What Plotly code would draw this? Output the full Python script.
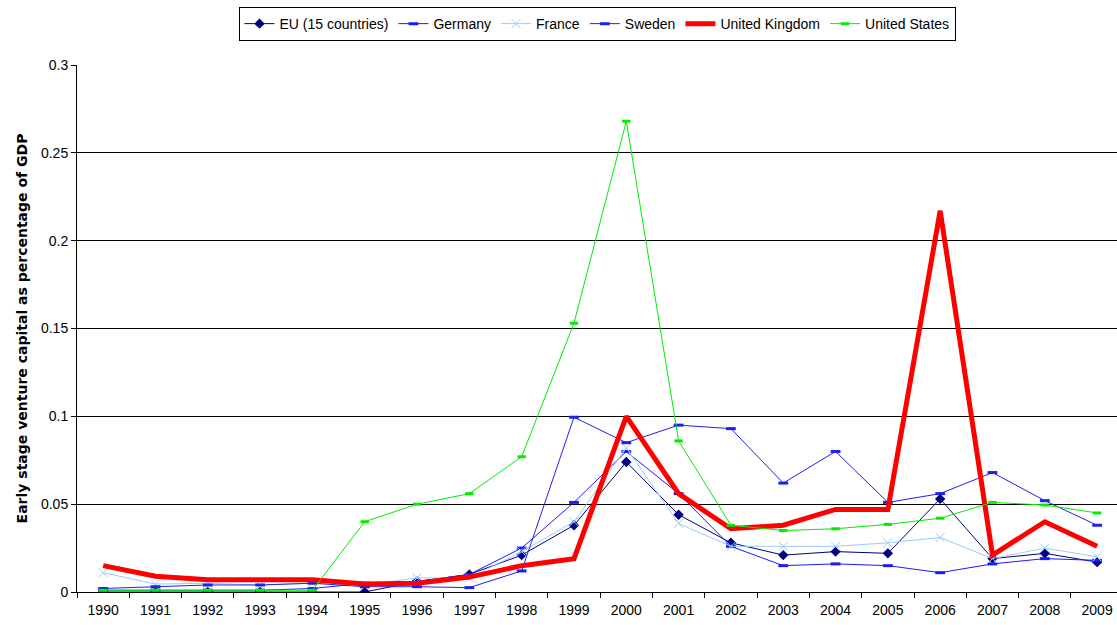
import plotly.graph_objects as go

years = list(range(1990, 2010))

eu15 = [0.0, 0.0, 0.0, 0.0, 0.0, 0.0, 0.006, 0.010, 0.021, 0.038,
        0.074, 0.044, 0.028, 0.021, 0.023, 0.022, 0.053, 0.019, 0.022, 0.017]
germany = [0.001, 0.001, 0.001, 0.001, 0.002, 0.005, 0.006, 0.010, 0.025, 0.051,
           0.080, 0.056, 0.026, 0.015, 0.016, 0.015, 0.011, 0.016, 0.019, 0.018]
france = [0.011, 0.0045, 0.005, 0.004, 0.005, 0.004, 0.008, 0.008, 0.023, 0.040,
          0.082, 0.039, 0.026, 0.026, 0.026, 0.028, 0.031, 0.019, 0.025, 0.020]
sweden = [0.002, 0.003, 0.004, 0.004, 0.005, 0.003, 0.003, 0.0025, 0.012, 0.0995,
          0.085, 0.095, 0.093, 0.062, 0.080, 0.051, 0.056, 0.068, 0.052, 0.038]
uk = [0.015, 0.009, 0.007, 0.007, 0.007, 0.0045, 0.005, 0.0085, 0.015, 0.019,
      0.100, 0.056, 0.036, 0.038, 0.047, 0.047, 0.217, 0.021, 0.040, 0.026]
us = [0.001, 0.001, 0.001, 0.001, 0.001, 0.040, 0.050, 0.056, 0.077, 0.153,
      0.268, 0.086, 0.038, 0.035, 0.036, 0.0385, 0.042, 0.051, 0.0495, 0.045]

series_names = ["EU (15 countries)", "Germany", "France", "Sweden", "United Kingdom", "United States"]
y_ticks = [0, 0.05, 0.1, 0.15, 0.2, 0.25, 0.3]

FONT = "Liberation Sans, Arial, sans-serif"

fig = go.Figure()
fig.add_trace(go.Scatter(x=years, y=eu15, name=series_names[0], mode="lines+markers",
                         line=dict(color="#000080", width=1),
                         marker=dict(symbol="diamond", size=8, color="#000080")))
fig.add_trace(go.Scatter(x=years, y=germany, name=series_names[1], mode="lines+markers",
                         line=dict(color="#1a1aff", width=1),
                         marker=dict(symbol="line-ew", size=7, color="#1a1aff",
                                     line=dict(color="#1a1aff", width=3))))
fig.add_trace(go.Scatter(x=years, y=france, name=series_names[2], mode="lines+markers",
                         line=dict(color="#99ccff", width=1),
                         marker=dict(symbol="x-thin", size=9, color="#99ccff",
                                     line=dict(color="#99ccff", width=1))))
fig.add_trace(go.Scatter(x=years, y=sweden, name=series_names[3], mode="lines+markers",
                         line=dict(color="#2020ee", width=1),
                         marker=dict(symbol="line-ew", size=7, color="#2020ee",
                                     line=dict(color="#2020ee", width=3))))
fig.add_trace(go.Scatter(x=years, y=uk, name=series_names[4], mode="lines",
                         line=dict(color="#ff0000", width=5)))
fig.add_trace(go.Scatter(x=years, y=us, name=series_names[5], mode="lines+markers",
                         line=dict(color="#00ee00", width=1),
                         marker=dict(symbol="line-ew", size=6, color="#00ee00",
                                     line=dict(color="#00ee00", width=3))))

fig.update_layout(
    width=1117, height=625,
    margin=dict(l=77, r=0, t=65, b=33),
    paper_bgcolor="white", plot_bgcolor="white",
    font=dict(family=FONT, size=13, color="black"),
    showlegend=True,
    legend=dict(orientation="h", x=0.5, xanchor="center", y=1.11, yanchor="top",
                bordercolor="black", borderwidth=1, bgcolor="white",
                font=dict(family=FONT, size=14), itemwidth=30,
                tracegroupgap=0),
)
fig.update_xaxes(
    range=[1989.5, 2009.38],
    tickmode="array", tickvals=years, ticktext=[str(y) for y in years],
    ticks="", showgrid=False, zeroline=False,
    showline=True, linecolor="black", linewidth=1,
    tickfont=dict(family=FONT, size=14),
    ticklabelstandoff=5,
    minor=dict(ticks="outside", ticklen=5, tickcolor="black", tick0=1989.5, dtick=1, showgrid=False),
)
fig.update_yaxes(
    range=[0, 0.3],
    tickmode="array", tickvals=y_ticks, ticktext=[str(v) for v in y_ticks],
    ticks="outside", ticklen=5, tickcolor="black",
    showgrid=True, gridcolor="black", gridwidth=1,
    zeroline=False, showline=True, linecolor="black", linewidth=1,
    tickfont=dict(family=FONT, size=14),
    title=dict(text="<b>Early stage venture capital as percentage of GDP</b>",
               font=dict(family="DejaVu Sans, sans-serif", size=14), standoff=10),
)

fig.write_html(
    "out.html",
    config={"displayModeBar": False},
    post_script="document.body.style.margin='0';document.body.style.overflow='hidden';",
)
